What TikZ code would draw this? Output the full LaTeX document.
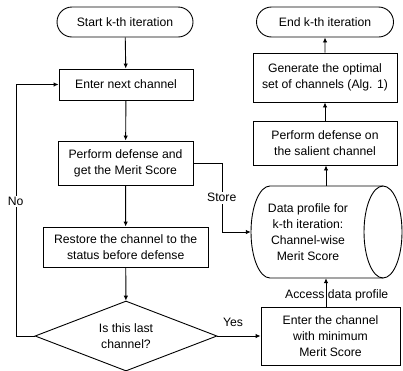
\documentclass[tikz,border=0pt]{standalone}
\usepackage{fontspec}
\setmainfont{Liberation Sans}
\usetikzlibrary{shapes.geometric,shapes.misc,arrows.meta}
\begin{document}
\begin{tikzpicture}[x=1pt,y=-1pt,
  font=\fontsize{12.2}{16}\selectfont,
  every node/.style={inner sep=0pt},
  term/.style={draw, rounded rectangle, line width=0.9pt, minimum height=30pt, minimum width=136pt},
  proc/.style={draw, rectangle, line width=0.9pt, align=center},
  arr/.style={-{Latex[length=5pt,width=4.5pt]}, line width=0.9pt},
  outline/.style={line width=0.9pt},
  lbl/.style={fill=white, inner sep=1.5pt}]
\useasboundingbox (0,0) rectangle (403,370);
\node[term] (start) at (125,22) {Start k-th iteration};
\node[proc, minimum width=134pt, minimum height=31pt] (enter) at (126,84.5) {Enter next channel};
\node[proc, minimum width=135pt, minimum height=44pt] (perf) at (125.5,163) {Perform defense and\\get the Merit Score};
\node[proc, minimum width=165pt, minimum height=40pt] (rest) at (125.7,247) {Restore the channel to the\\status before defense};
\node[draw, diamond, line width=0.9pt, aspect=2.6, minimum width=182pt, minimum height=70pt, align=center] (dia) at (126,336) {Is this last\\channel?};
\node[term, minimum width=137pt] (end) at (325,22) {End k-th iteration};
\node[proc, minimum width=144pt, minimum height=49pt] (gen) at (325,77.5) {Generate the optimal\\set of channels (Alg. 1)};
\node[proc, minimum width=144pt, minimum height=44pt] (sal) at (325,143) {Perform defense on\\the salient channel};
% cylinder (data store)
\node[minimum width=114pt, minimum height=92pt, align=center] (cyl) at (308,232) {Data profile for\\k-th iteration:\\Channel-wise\\Merit Score};
\draw[outline] (383,186) -- (270,186) arc[start angle=90, end angle=270, x radius=19pt, y radius=46pt] -- (383,278);
\draw[outline] (383,232) ellipse [x radius=19pt, y radius=46pt];
\node[proc, minimum width=139pt, minimum height=58pt] (emin) at (330.5,336) {Enter the channel\\with minimum\\Merit Score};
\coordinate (lx) at (16,0);
\coordinate (sx) at (222,0);
\coordinate (rx) at (326,0);
% connectors
\draw[arr] (start) -- (enter);
\draw[arr] (enter) -- (perf);
\draw[arr] (perf) -- (rest);
\draw[arr] (rest) -- (dia);
\draw[arr] (dia.west) -| (lx |- enter.west) -- (enter.west);
\draw[arr] (perf.east) -| (sx |- cyl.west) -- (cyl.west);
\draw[arr] (dia.east) -- (emin.west);
\draw[arr] (rx |- emin.north) -- (rx |- cyl.south);
\draw[arr] (rx |- cyl.north) -- (rx |- sal.south);
\draw[arr] (sal) -- (gen);
\draw[arr] (gen) -- (end);
% labels
\node[lbl] (no) at (15.7,201.7) {No};
\node[lbl] (store) at (221.7,197.7) {Store};
\node (yes) at (233,322) {Yes};
\node[anchor=west] (acc) at (285,295) {Access data profile};
\end{tikzpicture}
\end{document}
